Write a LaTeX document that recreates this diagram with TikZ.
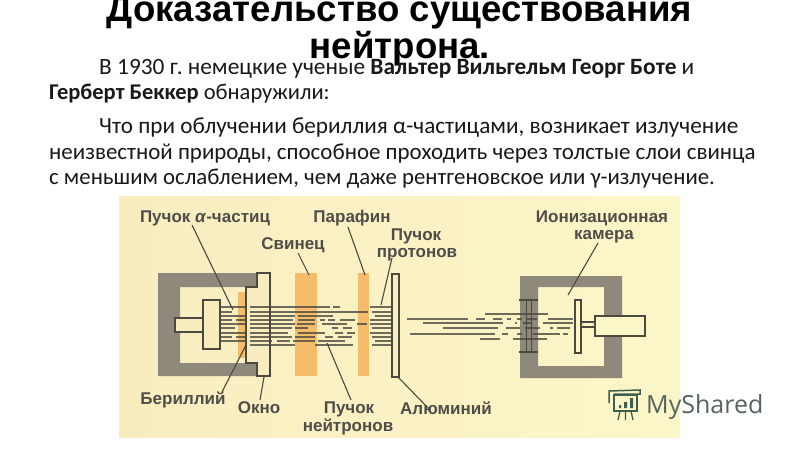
\documentclass[tikz,border=0pt]{standalone}
\usepackage{fontspec}
\setmainfont{Carlito}
\newfontfamily\titlefont{Liberation Sans}
\newfontfamily\labelfont{Liberation Sans}
\newfontfamily\logofont{Open Sans}
\definecolor{paperl}{HTML}{F9EDC0}
\definecolor{paperr}{HTML}{FBF6C8}
\definecolor{housing}{HTML}{8E897B}
\definecolor{orangeplate}{HTML}{F5BC6C}
\definecolor{inkline}{HTML}{4A4A40}
\definecolor{labelink}{HTML}{4E4D48}
\definecolor{logogreen}{HTML}{3D5F4E}
\definecolor{loggray}{HTML}{55645E}
\tikzset{
  titletext/.style={font=\titlefont\bfseries\fontsize{36.6}{36.6}\selectfont,anchor=base,inner sep=0pt,text=black},
  bodytext/.style={font=\frenchspacing\fontsize{#1}{#1}\selectfont,anchor=base west,inner sep=0pt,text=black!90},
  lab/.style={font=\labelfont\bfseries\fontsize{17}{17}\selectfont,anchor=base,inner sep=0pt,text=labelink},
  leader/.style={draw=inkline,line width=1.1pt},
  outline/.style={draw=inkline,line width=1.4pt},
  beam/.style={draw=inkline,draw opacity=.8,line width=1.1pt}
}
\newcommand{\beamrow}[2]{\foreach \xa/\xb in {#2}{\draw[beam] (\xa,#1) -- (\xb,#1);}}
\begin{document}
\begin{tikzpicture}[x=1pt,y=-1pt]
\useasboundingbox (0,0) rectangle (800,450);
\fill[white] (0,0) rectangle (800,450);
\shade[left color=paperl,right color=paperr] (119,196) rectangle (680,437);
% left housing
\fill[housing,even odd rule] (158,273) rectangle (257,376) (180,287) rectangle (257,363);
\fill[orangeplate] (238,292) rectangle (246,358);
\fill[orangeplate] (295,273) rectangle (317,376);
\fill[orangeplate] (358,273) rectangle (369,376);
% flange
\draw[outline,fill=paperl] (257,273) -- (270,273) -- (270,376) -- (257,376) -- (257,363) -- (246,363) -- (246,287) -- (257,287) -- cycle;
% source
\draw[outline,fill=paperl] (175,318) rectangle (203,332);
\draw[outline,fill=paperl] (203,300) rectangle (220,349);
% aluminium
\draw[outline,fill=paperl] (392,274) rectangle (399,377);
% beams left
\beamrow{307}{220/245,250/330,333/340,370/392}
\beamrow{312}{220/232,250/368,372/392}
\beamrow{316}{220/245,250/295,298/333,375/392}
\beamrow{320}{220/232,236/245,250/293,298/315,320/325,328/335,340/355,370/392}
\beamrow{324}{220/245,250/295,297/315,322/347,357/367,370/392}
\beamrow{328}{220/235,250/292,295/308,332/338,343/352,372/392}
\beamrow{333}{220/245,250/288,298/325,335/343,347/355,370/392}
\beamrow{337}{220/232,236/245,250/292,295/315,325/333,338/352,372/392}
\beamrow{341}{220/245,250/272,277/290,293/315,318/345,375/392}
\beamrow{345}{250/295,315/353,372/392}
% right housing
\fill[housing,even odd rule] (520,276) rectangle (622,378) (538,287) rectangle (604,366);
% beams right
\beamrow{314}{485/548}
\beamrow{319}{407/468,476/485,493/502,507/511,517/522,527/537,548/573}
\beamrow{323}{423/503,515/517,523/532,543/573}
\beamrow{328}{443/498,506/520,525/540,550/553,557/570}
\beamrow{334}{410/495,502/508,517/522,533/560,563/568}
\beamrow{339}{480/500,513/547}
% grid
\draw[outline,line width=2pt] (519,300) -- (538,300);
\draw[outline,line width=2pt] (519,352) -- (538,352);
\draw[outline] (526.5,300) -- (526.5,352);
\draw[outline] (531.5,300) -- (531.5,352);
% collector
\draw[outline,fill=paperr] (581,322) rectangle (595,327);
\draw[outline,fill=paperr] (575,300) rectangle (581,353);
\draw[outline,fill=paperr] (595,316) rectangle (645,336);
% labels
\node[lab] (alpha) at (205,222) {Пучок \textit{α}-частиц};
\node[lab] (svinec) at (293,249) {Свинец};
\node[lab] (paraf) at (352,222) {Парафин};
\node[lab] (puchp) at (416,240) {Пучок};
\node[lab] (proton) at (417,257) {протонов};
\node[lab] (ion) at (602,222) {Ионизационная};
\node[lab] (kam) at (604,239) {камера};
\node[lab] (ber) at (183,404) {Бериллий};
\node[lab] (okno) at (259,413) {Окно};
\node[lab] (puchn) at (349,413) {Пучок};
\node[lab] (neut) at (348,431) {нейтронов};
\node[lab] (alum) at (446,414) {Алюминий};
% leaders
\coordinate (e1) at (233,310);
\coordinate (e2) at (309,275);
\coordinate (e3) at (365,275);
\coordinate (e4) at (381,305);
\coordinate (e5) at (568,295);
\coordinate (e6) at (246,345);
\coordinate (e7) at (264,377);
\coordinate (e8) at (327,343);
\coordinate (e9) at (398,377);
\coordinate (s1) at (192,225);
\coordinate (s2) at (298,253);
\coordinate (s3) at (348,227);
\coordinate (s4) at (392,258);
\coordinate (s5) at (598,243);
\coordinate (s6) at (222,392);
\coordinate (s7) at (260,400);
\coordinate (s8) at (351,400);
\coordinate (s9) at (430,410);
\draw[leader] (s1) -- (e1);
\draw[leader] (s2) -- (e2);
\draw[leader] (s3) -- (e3);
\draw[leader] (s4) -- (e4);
\draw[leader] (s5) -- (e5);
\draw[leader] (s6) -- (e6);
\draw[leader] (s7) -- (e7);
\draw[leader] (s8) -- (e8);
\draw[leader] (s9) -- (e9);
% title
\node[titletext] (t1) at (399.5,21) {Доказательство существования};
\node[titletext] (t2) at (400,58) {нейтрона.};
% body
\node[bodytext=23.35] (b1) at (99,74) {В 1930 г. немецкие ученые \textbf{Вальтер Вильгельм Георг Боте} и};
\node[bodytext=22.5] (b2) at (49,99) {\textbf{Герберт Беккер} обнаружили:};
\node[bodytext=23.2] (b3) at (99,133) {Что при облучении бериллия α-частицами, возникает излучение};
\node[bodytext=22.95] (b4) at (49,159) {неизвестной природы, способное проходить через толстые слои свинца};
\node[bodytext=22.8] (b5) at (49,184) {с меньшим ослаблением, чем даже рентгеновское или γ-излучение.};
% logo
\node[font=\logofont\fontsize{25}{25}\selectfont,anchor=base west,inner sep=0pt,text=loggray] (logo) at (646,413) {MyShared};
\draw[logogreen,line width=1.3pt] (614,395) rectangle (637,411);
\draw[logogreen,line width=1.5pt] (609,403) -- (609,391) -- (640,390) -- (640,394) -- (614,394);
\fill[logogreen] (619,405) rectangle (621,408) (624,402) rectangle (627,408) (630,398) rectangle (633,408);
\draw[logogreen,line width=1.3pt] (620,411) -- (618,420) (625.5,411) -- (625.5,420) (631,411) -- (633,420);
\end{tikzpicture}
\end{document}
